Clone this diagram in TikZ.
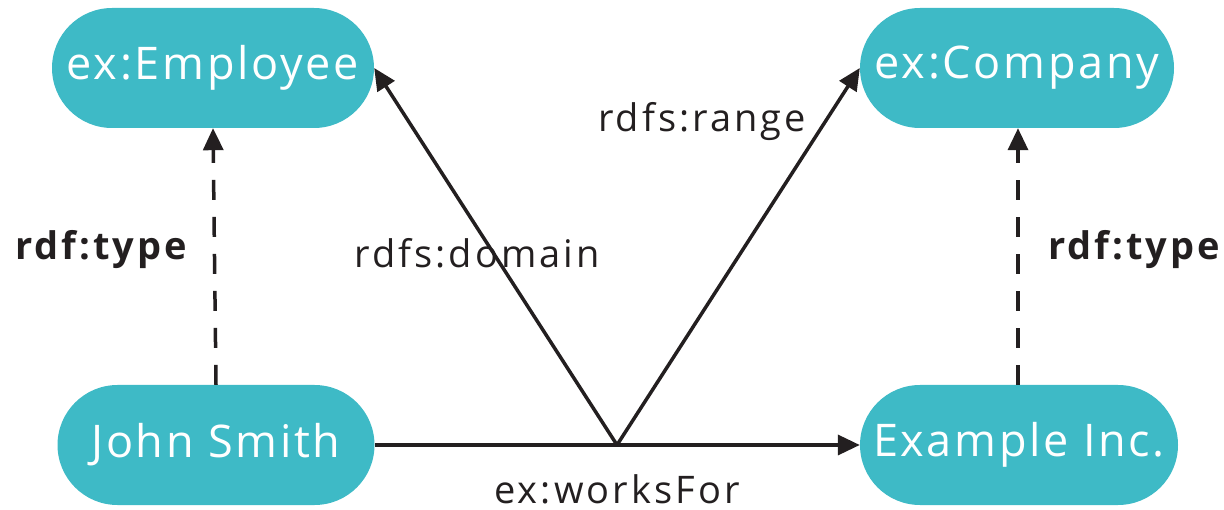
\documentclass[tikz,border=0pt]{standalone}
\usepackage{fontspec}
\setmainfont{Open Sans}
\newfontfamily\nodefont[LetterSpace=6]{Open Sans}
\newfontfamily\lblfont[LetterSpace=8]{Open Sans}
\usetikzlibrary{arrows.meta,shapes.misc}
\definecolor{teal1}{RGB}{62,186,198}
\definecolor{ink}{RGB}{35,31,32}
\begin{document}
\begin{tikzpicture}[x=1pt,y=-1pt,
  cls/.style={rounded rectangle, fill=teal1, text=white, minimum height=120pt, inner xsep=0pt, font=\nodefont\fontsize{45}{54}\selectfont},
  lbl/.style={text=ink, font=\lblfont\fontsize{38}{46}\selectfont},
  blbl/.style={text=ink, font=\lblfont\fontsize{38}{46}\selectfont\bfseries},
  arr/.style={draw=ink, line width=3.5pt, -{Triangle[length=22pt,width=20pt]}},
  dsh/.style={arr, dash pattern=on 20pt off 17pt}]
\useasboundingbox (0,0) rectangle (1224,510);
\node[cls, minimum width=322pt] (emp) at (213,68) {ex:Employee};
\node[cls, minimum width=314pt] (comp) at (1017,68) {ex:Company};
\node[cls, minimum width=317pt] (john) at (216,445) {John Smith};
\node[cls, minimum width=318pt] (inc) at (1019,445) {Example Inc.};
\coordinate (m) at (617,445);
\draw[dsh] (john.north) -- (emp.south);
\draw[dsh] (inc.north -| 1018,0) -- (comp.south -| 1018,0);
\draw[arr] (john.east) -- (inc.west);
\draw[arr] (m) -- (emp.east);
\draw[arr] (m) -- (comp.west);
\node[blbl] (t1) at (101,250) {rdf:type};
\node[blbl] (t2) at (1134,250) {rdf:type};
\node[lbl] (dom) at (477,253) {rdfs:domain};
\node[lbl] (rng) at (702,122) {rdfs:range};
\node[lbl, inner ysep=1pt] (wf) at (617,489) {ex:worksFor};
\end{tikzpicture}
\end{document}
